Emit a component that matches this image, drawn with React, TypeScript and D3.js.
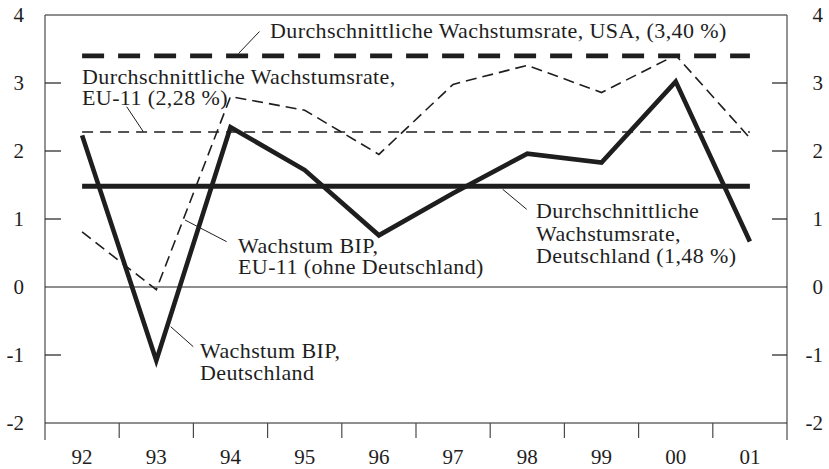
import React from "react";
import * as d3 from "d3";

const years = ["92", "93", "94", "95", "96", "97", "98", "99", "00", "01"];
const germany = [2.23, -1.08, 2.35, 1.72, 0.76, 1.38, 1.96, 1.83, 3.02, 0.67];
const eu11 = [0.81, -0.04, 2.8, 2.6, 1.95, 2.98, 3.26, 2.86, 3.41, 2.19];
const avgUSA = 3.4;
const avgEU = 2.28;
const avgDE = 1.48;
const yTicks = [-2, -1, 0, 1, 2, 3, 4];

type Note = { lines: string[]; x: number; y: number[]; lead: [number, number, number, number] };
const notes: Note[] = [
  { lines: ["Durchschnittliche Wachstumsrate, USA, (3,40 %)"], x: 270, y: [38], lead: [238.5, 53.5, 259.5, 31.5] },
  { lines: ["Durchschnittliche Wachstumsrate,", "EU-11 (2,28 %)"], x: 82, y: [84, 104.5], lead: [126.7, 106.7, 143.3, 131.7] },
  { lines: ["Wachstum BIP,", "EU-11 (ohne Deutschland)"], x: 238, y: [253.3, 273.5], lead: [185, 220, 226.7, 241.7] },
  { lines: ["Wachstum BIP,", "Deutschland"], x: 200, y: [358.3, 380], lead: [170.7, 326.7, 193.3, 346.7] },
  { lines: ["Durchschnittliche", "Wachstumsrate,", "Deutschland (1,48 %)"], x: 536, y: [218.3, 240.5, 263.3], lead: [502.7, 189.3, 526.7, 209.3] },
];

const W = 829, H = 469;
const L = 45, R = 787, T = 15, B = 423;
const INK = "#1e1e1e";
const AX = "#4a4a4a";
const FONT = "'Liberation Serif', 'Times New Roman', serif";

export default function App() {
  const x = d3.scaleBand<string>().domain(years).range([L, R]).padding(0);
  const cx = (k: string) => (x(k) as number) + x.bandwidth() / 2;
  const y = d3.scaleLinear().domain([-2, 4]).range([B, T]);

  const line = d3.line<number>().x((_, i) => cx(years[i])).y((d) => y(d));
  const x0 = cx(years[0]);
  const x1 = cx(years[years.length - 1]);

  return (
    <svg width={W} height={H} style={{ position: "absolute", left: 0, top: 0, background: "#fff" }}>
      <rect x={0} y={0} width={W} height={H} fill="#fff" />
      {/* frame */}
      <line x1={L} x2={R} y1={T} y2={T} stroke={INK} strokeWidth={1.2} />
      <line x1={L} x2={L} y1={T} y2={440} stroke={AX} strokeWidth={1.2} />
      <line x1={R} x2={R} y1={T} y2={440} stroke={AX} strokeWidth={1.2} />
      <line x1={L} x2={R} y1={B} y2={B} stroke={INK} strokeWidth={1.2} />
      <line x1={L} x2={R} y1={y(0)} y2={y(0)} stroke={INK} strokeWidth={1.2} />
      {/* y ticks */}
      {yTicks.map((t) => (
        <g key={t}>
          {t !== -2 && t !== 4 && t !== 0 && (
            <>
              <line x1={L} x2={L + 16} y1={y(t)} y2={y(t)} stroke={INK} strokeWidth={1.2} />
              <line x1={R - 15} x2={R} y1={y(t)} y2={y(t)} stroke={INK} strokeWidth={1.2} />
            </>
          )}
          <text x={24} y={y(t)} dy="0.33em" textAnchor="end" fontFamily={FONT} fontSize={21} fill={INK}>
            {t}
          </text>
          <text x={823} y={y(t)} dy="0.33em" textAnchor="end" fontFamily={FONT} fontSize={21} fill={INK}>
            {t}
          </text>
        </g>
      ))}
      {/* x ticks */}
      {years.map((k, i) => (
        <g key={k}>
          {i > 0 && <line x1={x(k)} x2={x(k)} y1={B} y2={438} stroke={AX} strokeWidth={1.2} />}
          <text x={cx(k)} y={464} textAnchor="middle" fontFamily={FONT} fontSize={21} fill={INK}>
            {k}
          </text>
        </g>
      ))}
      {/* averages */}
      <line x1={x0} x2={x1} y1={y(avgUSA)} y2={y(avgUSA)} stroke={INK} strokeWidth={4.8} strokeDasharray="22 14" />
      <line x1={x0} x2={x1} y1={y(avgEU)} y2={y(avgEU)} stroke={INK} strokeWidth={1.6} strokeDasharray="11 7" />
      <line x1={x0} x2={x1} y1={y(avgDE)} y2={y(avgDE)} stroke={INK} strokeWidth={5} />
      {/* series */}
      <path d={line(eu11) as string} fill="none" stroke={INK} strokeWidth={1.6} strokeDasharray="11 6" />
      <path d={line(germany) as string} fill="none" stroke={INK} strokeWidth={4.6} strokeLinejoin="miter" />
      {/* annotations */}
      {notes.map((n, i) => (
        <g key={i}>
          <line x1={n.lead[0]} y1={n.lead[1]} x2={n.lead[2]} y2={n.lead[3]} stroke={INK} strokeWidth={1} />
          {n.lines.map((s, j) => (
            <text key={j} x={n.x} y={n.y[j]} fontFamily={FONT} fontSize={22} letterSpacing={0.4} fill={INK}>
              {s}
            </text>
          ))}
        </g>
      ))}
    </svg>
  );
}
